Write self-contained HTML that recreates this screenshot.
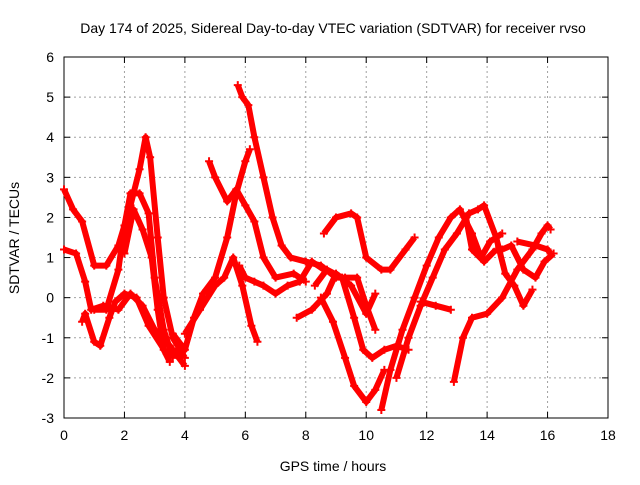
<!DOCTYPE html>
<html><head><meta charset="utf-8"><style>
body{margin:0;background:#fff}
svg text{font-family:"Liberation Sans",sans-serif;font-size:14px;fill:#000}
</style></head><body>
<svg width="640" height="480">
<text x="333" y="33" text-anchor="middle">Day 174 of 2025, Sidereal Day-to-day VTEC variation (SDTVAR) for receiver rvso</text>
<g id="grid"></g>
<g id="axes"></g>
<g id="series"></g>
<text x="333" y="471" text-anchor="middle">GPS time / hours</text>
<text transform="translate(19,238) rotate(-90)" text-anchor="middle">SDTVAR / TECUs</text>
</svg>
<script>
const xTicks=[0,2,4,6,8,10,12,14,16,18];
const yTicks=[-3,-2,-1,0,1,2,3,4,5,6];
const traceA=[[0,2.7],[0.3,2.2],[0.6,1.9],[1.0,0.8],[1.4,0.8],[1.8,1.3],[2.2,2.3],[2.5,3.2],[2.7,4.0],[2.85,3.5],[3.1,1.5],[3.3,0],[3.6,-1],[4,-1.5]];
const traceB=[[0,1.2],[0.4,1.1],[0.7,0.4],[0.9,-0.3],[1.3,-0.2],[1.8,-0.3],[2.2,0.1],[2.6,-0.2],[3,-0.8],[3.5,-1.2],[4,-1.7]];
const traceC=[[0.6,-0.6],[0.7,-0.4],[1.0,-1.1],[1.2,-1.2],[1.5,-0.5],[1.7,-0.1],[2,0.1],[2.4,0],[2.8,-0.7],[3.4,-1.4],[3.8,-1.3]];
const traceD=[[1.0,-0.3],[1.4,-0.3],[1.8,0.7],[2.0,1.8],[2.2,2.6],[2.5,2.6],[2.8,2.1],[3.0,0.5],[3.3,-0.8],[3.6,-1.5]];
const traceE=[[2.0,1.1],[2.3,2.2],[2.6,1.7],[2.9,1.0],[3.1,-0.3],[3.3,-1.3],[3.5,-1.6]];
const traceF=[[3.6,-0.9],[4.0,-1.3],[4.3,-0.5],[4.6,0.1],[5,0.5],[5.4,1.5],[5.7,2.6],[6.0,3.4],[6.15,3.7]];
const traceG=[[4.8,3.4],[5.0,3.0],[5.4,2.4],[5.7,2.7],[6.0,2.3],[6.3,1.9],[6.6,1.0],[7.0,0.5],[7.6,0.6],[8.0,0.4]];
const traceH=[[5.75,5.3],[5.9,5.0],[6.1,4.8],[6.3,4.0],[6.6,3.0],[6.9,2.0],[7.2,1.3],[7.5,1.0],[8,0.9],[8.5,0.8],[9,0.5],[9.3,0.5],[9.7,0.5],[10,-0.2],[10.3,-0.8]];
const traceI=[[4.0,-0.9],[4.5,-0.3],[5,0.3],[5.3,0.5],[5.6,1.0],[5.9,0.3],[6.2,-0.7],[6.4,-1.1]];
const traceJ=[[5.8,0.8],[6.0,0.5],[6.3,0.4],[6.6,0.3],[7,0.1],[7.4,0.3],[7.8,0.4],[8.2,0.9],[8.6,0.7]];
const traceK=[[8.6,1.6],[9,2.0],[9.5,2.1],[9.7,2.0],[10,1.0],[10.5,0.7],[10.8,0.7],[11.3,1.2],[11.6,1.5]];
const traceM1=[[7.7,-0.5],[8.2,-0.3],[8.7,0.1],[9.0,0.6],[9.5,0.3],[10.0,-0.4],[10.3,0.1]];
const traceM2=[[8.3,0.3],[8.7,0.7],[9.2,0.5],[9.6,-0.5],[9.9,-1.3],[10.2,-1.5],[10.6,-1.3],[11,-1.2],[11.4,-1.3]];
const traceM3=[[8.5,0.0],[8.9,-0.6],[9.3,-1.5],[9.6,-2.2],[10.0,-2.6],[10.3,-2.3],[10.6,-1.8]];
const traceM4=[[10.5,-2.8],[10.8,-1.8],[11.2,-0.8],[11.6,0],[12,0.8],[12.4,1.5],[12.8,2.0],[13.1,2.2],[13.5,1.6],[13.8,1.0],[14.1,1.4],[14.5,1.6]];
const traceM5=[[11.0,-2.0],[11.4,-1.0],[11.8,-0.2],[12.2,0.5],[12.6,1.2],[13,1.6],[13.4,2.1],[13.7,2.2],[13.9,2.3],[14.3,1.5],[14.6,0.6],[14.9,0.3],[15.2,-0.2],[15.5,0.2]];
const traceM6=[[11.8,-0.1],[12.3,-0.2],[12.8,-0.3]];
const traceM7=[[12.9,-2.1],[13.2,-1.0],[13.5,-0.5],[14,-0.4],[14.5,0],[15,0.7],[15.5,1.2],[15.8,1.6],[16,1.8],[16.1,1.7]];
const traceM8=[[14.5,1.2],[14.8,1.3],[15.2,0.7],[15.6,0.5],[15.9,0.9],[16.2,1.1]];
const traceM9=[[15.0,1.4],[15.6,1.3],[16,1.2],[16.1,1.1]];
const traceM10=[[13.3,2.0],[13.5,1.2],[13.9,0.9],[14.3,1.2]];
const traces=[traceA,traceB,traceC,traceD,traceE,traceF,traceG,traceH,traceI,traceJ,traceK,traceM1,traceM2,traceM3,traceM4,traceM5,traceM6,traceM7,traceM8,traceM9,traceM10];

const X0=64,X1=608,Y0=418,Y1=57;
function sx(h){return X0+(h-0)/(18-0)*(X1-X0);}
function sy(v){return Y0-(v+3)/9*(Y0-Y1);}
const NS='http://www.w3.org/2000/svg';
function mk(t,a,p){const e=document.createElementNS(NS,t);for(const k in a)e.setAttribute(k,a[k]);p.appendChild(e);return e;}
const grid=document.getElementById('grid'),axes=document.getElementById('axes'),ser=document.getElementById('series');
xTicks.forEach(t=>{const x=sx(t);
 if(t>0&&t<18){const l=mk('line',{x1:x,y1:Y0,x2:x,y2:Y1,stroke:'#a0a0a0','stroke-dasharray':'2,3'},grid);
 
 }
 mk('line',{x1:x,y1:Y0,x2:x,y2:Y0-6,stroke:'#000'},axes);mk('line',{x1:x,y1:Y1,x2:x,y2:Y1+6,stroke:'#000'},axes);
 const tx=mk('text',{x:x,y:Y0+22,'text-anchor':'middle'},axes);tx.textContent=t;
 
 });
yTicks.forEach(t=>{const y=sy(t);
 if(t>-3&&t<6){const l=mk('line',{x1:X0,y1:y,x2:X1,y2:y,stroke:'#a0a0a0','stroke-dasharray':'2,3'},grid);
 
 }
 mk('line',{x1:X0,y1:y,x2:X0+6,y2:y,stroke:'#000'},axes);mk('line',{x1:X1,y1:y,x2:X1-6,y2:y,stroke:'#000'},axes);
 const tx=mk('text',{x:X0-10,y:y+5,'text-anchor':'end'},axes);tx.textContent=t;
 
 });
mk('rect',{x:X0,y:Y1,width:X1-X0,height:Y0-Y1,fill:'none',stroke:'#000'},axes);
traces.forEach(tr=>{
 const g=mk('g',{},ser);
 
 
 mk('polyline',{points:tr.map(p=>sx(p[0])+','+sy(p[1])).join(' '),fill:'none',stroke:'#f00','stroke-width':6,'stroke-linejoin':'round'},g);
 tr.forEach(p=>{const x=sx(p[0]),y=sy(p[1]);
  mk('path',{d:`M${x-4},${y}H${x+4}M${x},${y-4}V${y+4}`,stroke:'#f00','stroke-width':2},g);});
});
</script>
</body></html>
